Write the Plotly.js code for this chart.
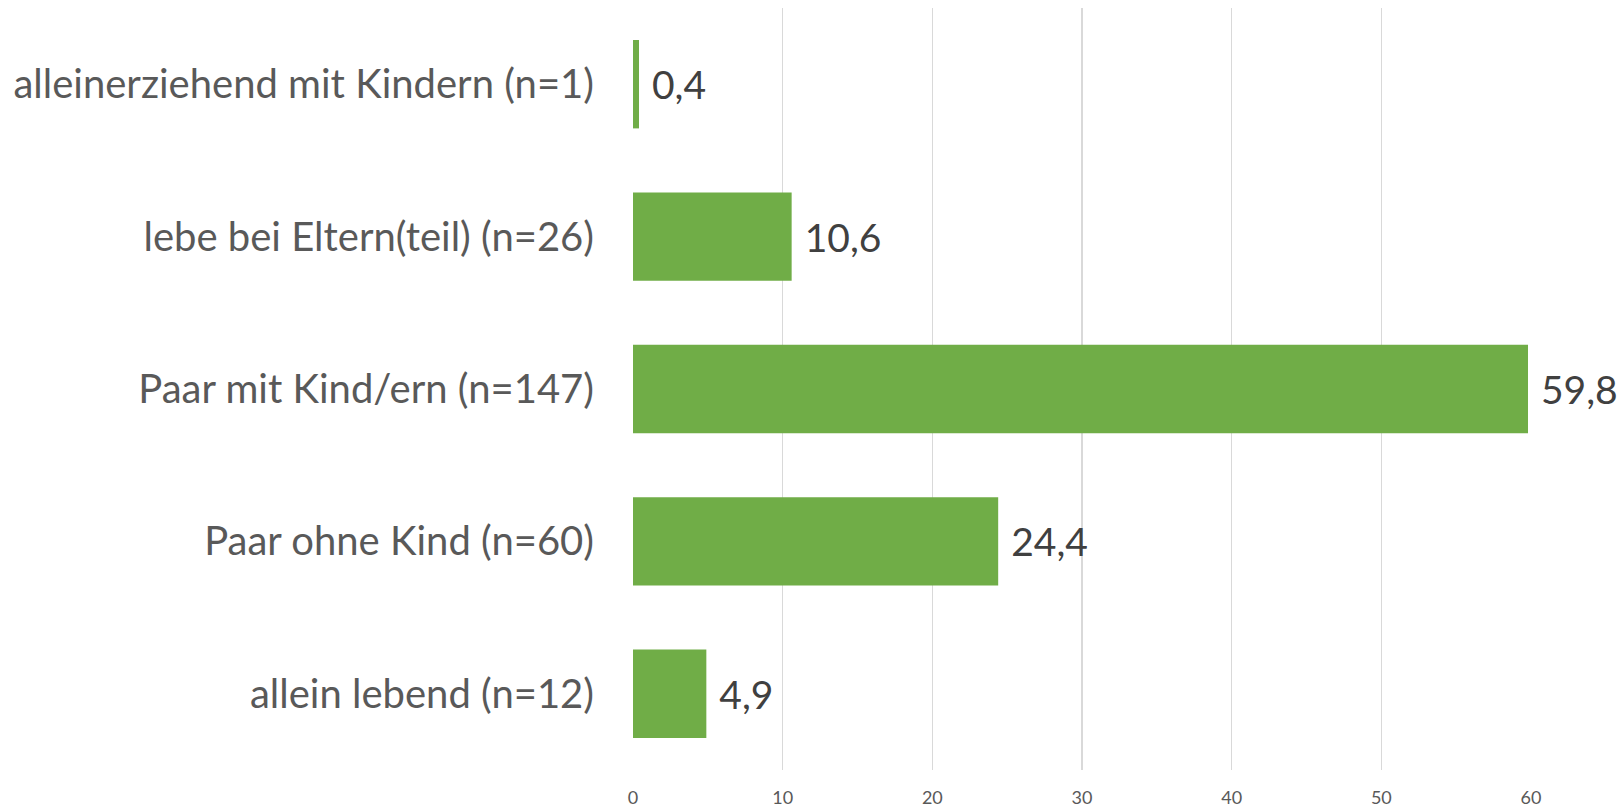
<!DOCTYPE html>
<html>
<head>
<meta charset="utf-8">
<script src="https://cdn.plot.ly/plotly-3.0.1.min.js"></script>
<style>html,body{margin:0;padding:0;background:#fff;}#chart{width:1620px;height:811px;}</style>
</head>
<body>
<div id="chart"></div>
<script>
const categories = [
  "alleinerziehend mit Kindern (n=1)",
  "lebe bei Eltern(teil) (n=26)",
  "Paar mit Kind/ern (n=147)",
  "Paar ohne Kind (n=60)",
  "allein lebend (n=12)"
];
const values = [0.4, 10.6, 59.8, 24.4, 4.9];
const tickValues = [0, 10, 20, 30, 40, 50, 60];

const trace = {
  type: 'bar',
  orientation: 'h',
  y: categories,
  x: values,
  marker: {color: '#70AD47'},
  width: 0.58,
  text: values.map(v => ' ' + v.toFixed(1).replace('.', ',')),
  textposition: 'outside',
  constraintext: 'none',
  cliponaxis: false,
  textfont: {family: 'Lato, sans-serif', size: 39, color: '#404040'},
  hoverinfo: 'none'
};

const layout = {
  width: 1620,
  height: 811,
  margin: {l: 633, r: 89, t: 8, b: 41, pad: 0},
  paper_bgcolor: '#ffffff',
  plot_bgcolor: '#ffffff',
  showlegend: false,
  separators: ',.',
  xaxis: {
    range: [0, 60],
    tickvals: tickValues,
    ticktext: tickValues.map(String),
    showgrid: true,
    gridcolor: '#D9D9D9',
    gridwidth: 1.5,
    zeroline: false,
    showline: false,
    ticks: '',
    ticklabelstandoff: 15,
    tickfont: {family: 'Lato, sans-serif', size: 18, color: '#595959'}
  },
  yaxis: {
    autorange: 'reversed',
    type: 'category',
    showgrid: false,
    zeroline: false,
    showline: false,
    ticks: '',
    ticklabelstandoff: 38,
    tickfont: {family: 'Lato, sans-serif', size: 40, color: '#595959'}
  }
};

Plotly.newPlot('chart', [trace], layout, {displayModeBar: false, staticPlot: true});
</script>
</body>
</html>
